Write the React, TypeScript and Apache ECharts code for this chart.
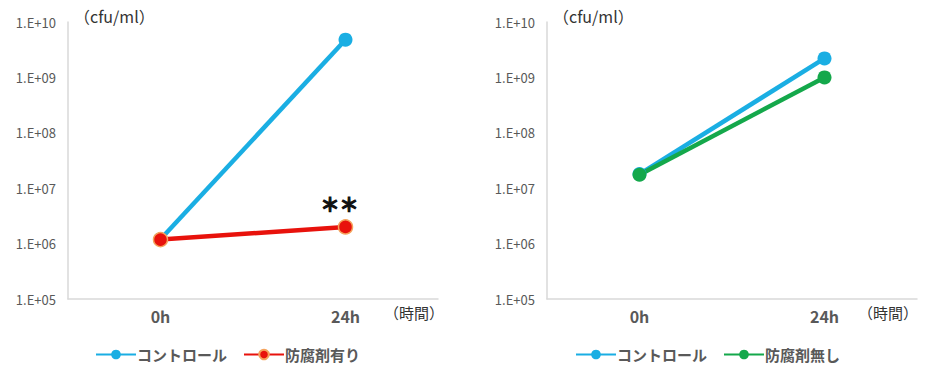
import React, { useEffect, useRef } from "react";
import * as echarts from "echarts";

const categories = ["0h", "24h"];
const leftControl = [1.2e6, 4.8e9];
const leftPreserved = [1.18e6, 2.0e6];
const rightControl = [1.8e7, 2.2e9];
const rightNoPreserve = [1.75e7, 1.0e9];
const annotation = "＊＊";

const FONT = "'Noto Sans CJK JP', 'Noto Sans', sans-serif";
const BLUE = "#1AAEE3";
const RED = "#E8120C";
const GREEN = "#14A84B";
const GREY = "#595959";

function expLabel(v: number) {
  const e = Math.round(Math.log10(v));
  return "1.E+" + (e < 10 ? "0" + e : String(e));
}

function buildOption(
  gridLeft: number,
  legendLeft: number,
  unitOffset: number,
  series: any[],
  legendNames: string[]
) {
  return {
    animation: false,
    textStyle: { fontFamily: FONT },
    grid: { left: gridLeft, width: 370, top: 22, bottom: 82 },
    xAxis: {
      type: "category",
      data: categories,
      boundaryGap: true,
      axisLine: { lineStyle: { color: "#D9D9D9", width: 1.5 } },
      axisTick: { show: false },
      axisLabel: { color: GREY, fontSize: 16, fontWeight: "bold", margin: 9, fontFamily: FONT },
    },
    yAxis: {
      type: "log",
      logBase: 10,
      min: 1e5,
      max: 1e10,
      axisLine: { show: true, lineStyle: { color: "#D9D9D9", width: 1.5 } },
      axisTick: { show: false },
      splitLine: { show: false },
      axisLabel: { color: GREY, fontSize: 13, margin: 12, formatter: expLabel, fontFamily: FONT },
    },
    legend: {
      left: legendLeft,
      top: 342,
      itemWidth: 40,
      itemHeight: 12,
      itemGap: 16,
      data: legendNames,
      textStyle: { color: GREY, fontSize: 15, fontWeight: "bold", fontFamily: FONT, padding: [0, 0, 0, -4] },
    },
    graphic: [
      {
        type: "text",
        left: gridLeft + 6,
        top: 8,
        style: { text: "（cfu/ml）", fontSize: 16, fill: "#333", fontFamily: FONT },
      },
      {
        type: "text",
        left: gridLeft + unitOffset,
        top: 305,
        style: { text: "（時間）", fontSize: 15, fill: "#333", fontFamily: FONT },
      },
    ],
    series,
  };
}

function Chart({ option, style }: { option: any; style: any }) {
  const ref = useRef<HTMLDivElement>(null);
  useEffect(() => {
    if (!ref.current) return;
    const chart = echarts.init(ref.current, undefined, { renderer: "svg" });
    chart.setOption(option);
    return () => chart.dispose();
  }, []);
  return <div ref={ref} style={style} />;
}

export default function App() {
  useEffect(() => {
    document.body.style.margin = "0";
  }, []);

  const lineSeries = (name: string, data: any[], color: string, border?: string) => ({
    name,
    type: "line",
    data,
    symbol: "circle",
    symbolSize: 14,
    lineStyle: { color, width: 4.5 },
    itemStyle: { color, borderColor: border || color, borderWidth: border ? 1.5 : 0 },
  });

  const leftOption = buildOption(
    68,
    90,
    316,
    [
      lineSeries("コントロール", leftControl, BLUE),
      lineSeries(
        "防腐剤有り",
        leftPreserved.map((v, i) =>
          i === 1
            ? {
                value: v,
                label: {
                  show: true,
                  formatter: annotation,
                  position: "top",
                  distance: 6,
                  offset: [-6, 0],
                  fontSize: 19,
                  fontWeight: "bold",
                  color: "#111",
                  textBorderColor: "#111",
                  textBorderWidth: 1.2,
                  fontFamily: FONT,
                },
              }
            : v
        ),
        RED,
        "#F5A35C"
      ),
    ],
    ["コントロール", "防腐剤有り"]
  );

  const rightOption = buildOption(
    82,
    105,
    311,
    [
      lineSeries("コントロール", rightControl, BLUE),
      lineSeries("防腐剤無し", rightNoPreserve, GREEN),
    ],
    ["コントロール", "防腐剤無し"]
  );

  return (
    <div style={{ position: "relative", width: 930, height: 381, background: "#fff" }}>
      <Chart option={leftOption} style={{ position: "absolute", left: 0, top: 0, width: 465, height: 381 }} />
      <Chart option={rightOption} style={{ position: "absolute", left: 465, top: 0, width: 465, height: 381 }} />
    </div>
  );
}
